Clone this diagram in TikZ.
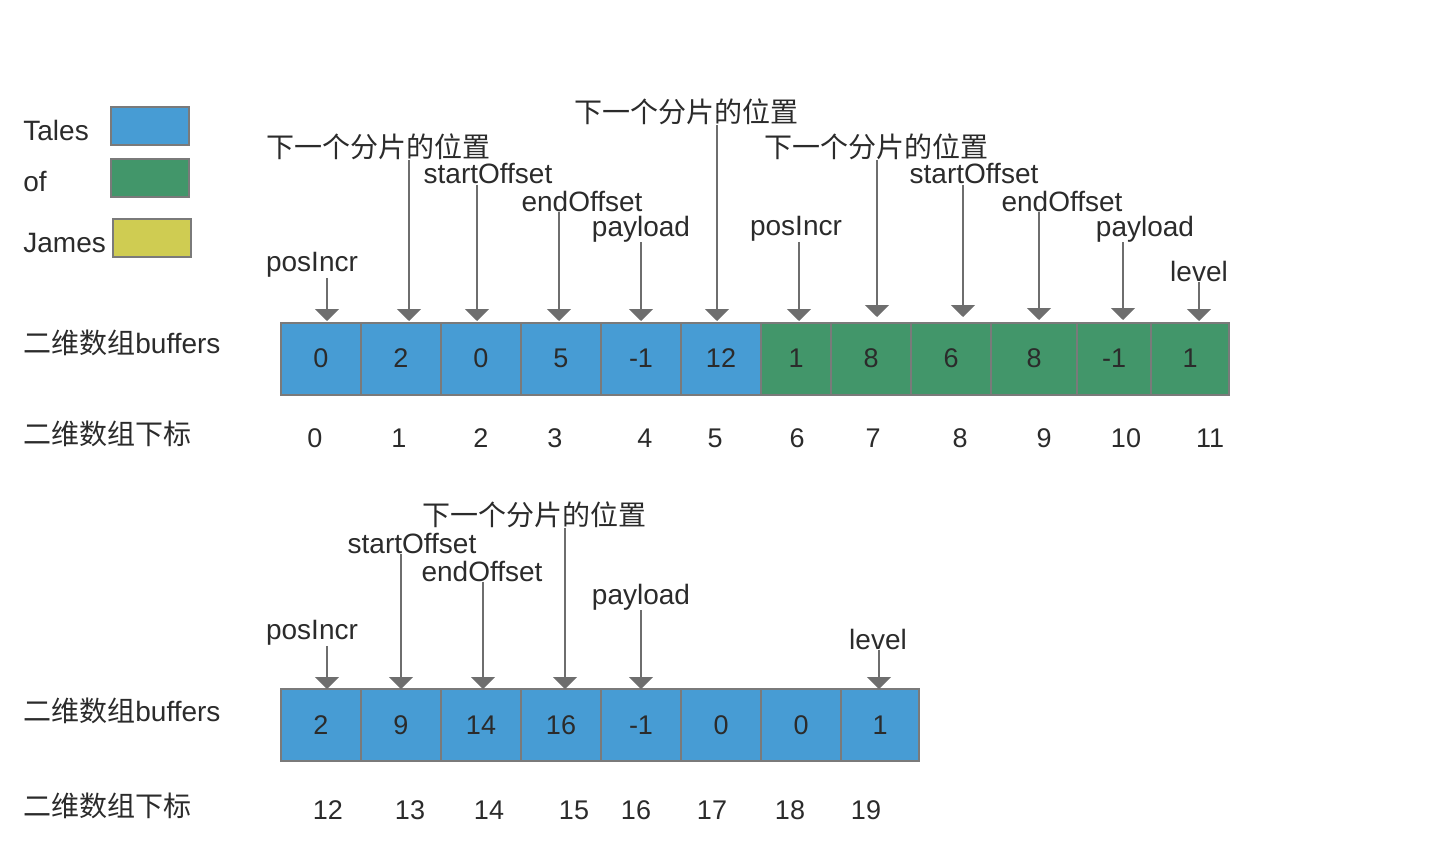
\documentclass[tikz,border=0pt]{standalone}
\usepackage{fontspec}
\setmainfont{Liberation Sans}
\newfontfamily\cjk{Noto Sans CJK SC}
\usetikzlibrary{arrows.meta}
\definecolor{tblue}{HTML}{479CD4}
\definecolor{tgreen}{HTML}{42966A}
\definecolor{tyellow}{HTML}{CFCC52}
\definecolor{rim}{HTML}{7A7A7A}
\definecolor{ink}{HTML}{2B2B2B}
\tikzset{
  cell/.style={draw=rim, line width=1pt, inner sep=0pt, minimum height=36pt,
    text=ink, font=\fontsize{13.5pt}{15pt}\selectfont},
  legbox/.style={draw=rim, line width=1pt, minimum width=39pt, minimum height=19pt, inner sep=0pt},
  lab/.style={inner sep=0pt, text=ink, font=\fontsize{14pt}{16pt}\selectfont},
  idx/.style={inner sep=0pt, text=ink, font=\fontsize{13.5pt}{15pt}\selectfont},
  ptr/.style={draw=rim!90!black, line width=1pt, -{Triangle[width=12pt,length=6pt]}}
}
\begin{document}
\begin{tikzpicture}[x=0.5pt, y=-0.5pt]
    \useasboundingbox (0,0) rectangle (1440,862);
    % 图例
    \node[lab, anchor=west] (t1) at (23,130) {Tales};
    \node[lab, anchor=west] (t2) at (23,182) {of};
    \node[lab, anchor=west] (t3) at (23,243) {James};
    \node[legbox, fill=tblue] (k1) at (150,126) {};
    \node[legbox, fill=tgreen] (k2) at (150,178) {};
    \node[legbox, fill=tyellow] (k3) at (152,238) {};
    % 左侧说明
    \node[lab, anchor=west] (r1) at (23,343) {{\cjk 二维数组}buffers};
    \node[lab, anchor=west] (s1) at (23,434) {\cjk 二维数组下标};
    \node[lab, anchor=west] (r2) at (23,711) {{\cjk 二维数组}buffers};
    \node[lab, anchor=west] (s2) at (23,806) {\cjk 二维数组下标};
    % 第一行 buffers
    \foreach \l/\r/\v/\c [count=\i from 0] in {281/361/0/tblue, 361/441/2/tblue,
        441/521/0/tblue, 521/601/5/tblue, 601/681/-1/tblue, 681/761/12/tblue,
        761/831/1/tgreen, 831/911/8/tgreen, 911/991/6/tgreen, 991/1077/8/tgreen,
        1077/1151/-1/tgreen, 1151/1229/1/tgreen}
      \node[cell, fill=\c, minimum width={(\r-\l)*0.5pt}] (a\i) at ({(\l+\r)/2},358.5) {\v};
    % 第一行下标
    \foreach \x [count=\i from 0] in {315,399,481,555,645,715,797,873,960,1044,1126,1210}
      \node[idx] (m\i) at (\x,438) {\i};
    % 第一行标注
    \node[lab] (p1) at (312,265) {posIncr};
    \node[lab] (p2) at (378,147) {\cjk 下一个分片的位置};
    \node[lab] (p3) at (488,174) {startOffset};
    \node[lab] (p4) at (582,201) {endOffset};
    \node[lab] (p5) at (641,229) {payload};
    \node[lab] (p6) at (686,112) {\cjk 下一个分片的位置};
    \node[lab] (p7) at (796,229) {posIncr};
    \node[lab] (p8) at (876,147) {\cjk 下一个分片的位置};
    \node[lab] (p9) at (974,174) {startOffset};
    \node[lab] (p10) at (1062,201) {endOffset};
    \node[lab] (p11) at (1145,229) {payload};
    \node[lab] (p12) at (1199,271) {level};
    \foreach \x/\y [count=\i] in {327/321,409/321,477/321,559/321,641/321,717/321,
        799/321,877/317,963/317,1039/320,1123/320,1199/321}
      \coordinate (q\i) at (\x,\y);
    \foreach \i in {1,...,12}
      \draw[ptr] (p\i.south -| q\i) -- (q\i);
    % 第二行 buffers
    \foreach \l/\r/\v [count=\i from 12] in {281/361/2, 361/441/9, 441/521/14,
        521/601/16, 601/681/-1, 681/761/0, 761/841/0, 841/919/1}
      \node[cell, fill=tblue, minimum width={(\r-\l)*0.5pt}] (a\i) at ({(\l+\r)/2},725) {\v};
    % 第二行下标
    \foreach \x [count=\i from 12] in {328,410,489,574,636,712,790,866}
      \node[idx] (m\i) at (\x,810) {\i};
    % 第二行标注
    \node[lab] (n1) at (312,633) {posIncr};
    \node[lab] (n2) at (412,543) {startOffset};
    \node[lab] (n3) at (482,571) {endOffset};
    \node[lab] (n4) at (534,515) {\cjk 下一个分片的位置};
    \node[lab] (n5) at (641,597) {payload};
    \node[lab] (n6) at (878,639) {level};
    \foreach \x [count=\i] in {327,401,483,565,641,879}
      \coordinate (w\i) at (\x,689);
    \foreach \i in {1,...,6}
      \draw[ptr] (n\i.south -| w\i) -- (w\i);
\end{tikzpicture}
\end{document}
